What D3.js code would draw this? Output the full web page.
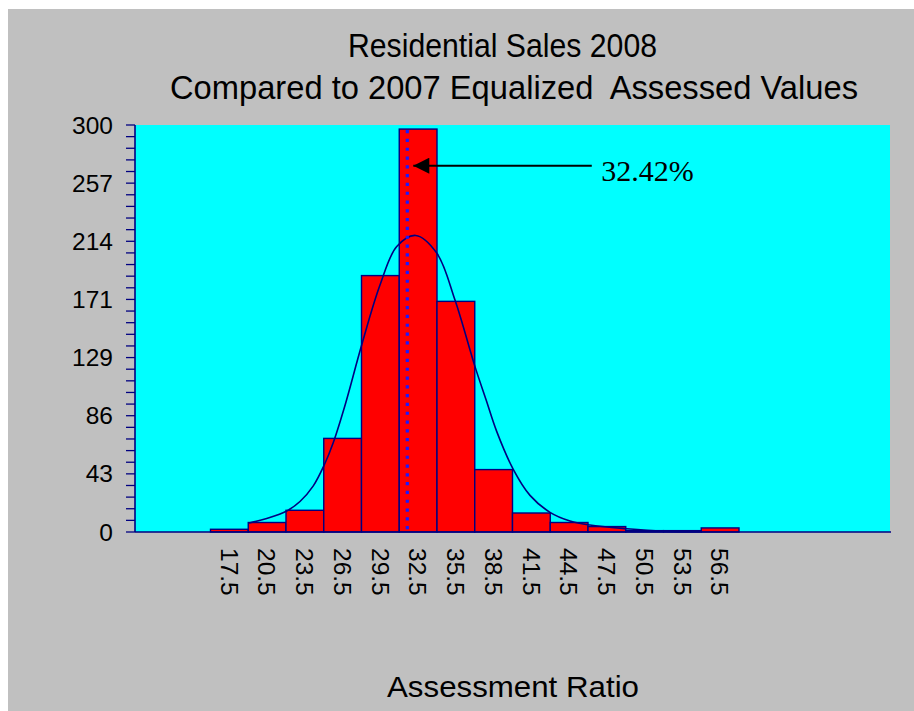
<!DOCTYPE html>
<html>
<head>
<meta charset="utf-8">
<script src="https://cdn.jsdelivr.net/npm/d3@7"></script>
<style>
  html, body { margin: 0; padding: 0; background: #ffffff; }
  svg { display: block; }
</style>
</head>
<body>
<svg id="chart" width="914" height="711"></svg>
<script>
// ---- Data ----
const binCenters = [17.5, 20.5, 23.5, 26.5, 29.5, 32.5, 35.5, 38.5, 41.5, 44.5, 47.5, 50.5, 53.5, 56.5];
const binLabels = ["17.5", "20.5", "23.5", "26.5", "29.5", "32.5", "35.5", "38.5", "41.5", "44.5", "47.5", "50.5", "53.5", "56.5"];
const counts = [2, 7, 16, 69, 189, 297, 170, 46, 14, 7, 4, 1, 1, 3];
const binWidth = 3;

// fitted curve as (ratio, count) points
const curveRatio = [19.06, 20.47, 22.06, 23.11, 24.17, 25.02, 25.76, 26.71, 28.02, 29.47, 30.8, 32.31, 33.98, 35.43, 37.02, 37.9, 38.75, 40.06, 41.39, 42.98, 44.57, 46.16, 49.08, 51.96, 54.9];
const curveCount = [6.6, 10.0, 15.5, 22.5, 34, 49, 66, 94, 138, 182, 210.4, 218.6, 205.6, 171, 121.9, 97.5, 74, 46.2, 27, 14.5, 8.1, 5.1, 2.4, 0.6, 0.2];

const yTickLabels = ["0", "43", "86", "129", "171", "214", "257", "300"];
const yMax = 300;
const xDomain = [10, 70];

const markerRatio = 31.64;       // position of the dotted marker on the ratio axis
const markerLabel = "32.42%";

const titleLines = ["Residential Sales 2008", "Compared to 2007 Equalized  Assessed Values"];
const xAxisTitle = "Assessment Ratio";

// ---- Layout ----
const svg = d3.select("#chart");
const W = 914, H = 711;
const plot = { left: 135, top: 125, right: 890, bottom: 532 };
const navy = "#000080";

svg.append("rect").attr("x", 0).attr("y", 0).attr("width", W).attr("height", H).attr("fill", "#ffffff");
svg.append("rect").attr("x", 8).attr("y", 9).attr("width", W - 8).attr("height", H - 9).attr("fill", "#c0c0c0");

const x = d3.scaleLinear().domain(xDomain).range([plot.left, plot.right]);
const y = d3.scaleLinear().domain([0, yMax]).range([plot.bottom, plot.top]);

// plot area
svg.append("rect")
  .attr("x", plot.left).attr("y", plot.top)
  .attr("width", plot.right - plot.left).attr("height", plot.bottom - plot.top)
  .attr("fill", "#00ffff");

// bars
const bins = binCenters.map((c, i) => ({ c, v: counts[i], label: binLabels[i] }));
svg.append("g").selectAll("rect").data(bins).join("rect")
  .attr("x", d => x(d.c - binWidth / 2))
  .attr("y", d => y(d.v))
  .attr("width", d => x(d.c + binWidth / 2) - x(d.c - binWidth / 2))
  .attr("height", d => y(0) - y(d.v))
  .attr("fill", "#ff0000")
  .attr("stroke", navy)
  .attr("stroke-width", 1.4);

// curve
const curvePts = curveRatio.map((r, i) => [r, curveCount[i]]);
svg.append("path")
  .datum(curvePts)
  .attr("d", d3.line().x(d => x(d[0])).y(d => y(d[1])).curve(d3.curveCatmullRom.alpha(0.5)))
  .attr("fill", "none")
  .attr("stroke", navy)
  .attr("stroke-width", 1.6);

// dotted marker
svg.append("line")
  .attr("x1", x(markerRatio)).attr("x2", x(markerRatio))
  .attr("y1", y(d3.max(counts)) + 1).attr("y2", y(0))
  .attr("stroke", "#1a1aff")
  .attr("stroke-width", 3.2)
  .attr("stroke-dasharray", "3.2 5.6");

// arrow + label
const arrowY = y(270);
const defs = svg.append("defs");
defs.append("marker")
  .attr("id", "arrowhead")
  .attr("viewBox", "0 0 10 10")
  .attr("refX", 10).attr("refY", 5)
  .attr("markerWidth", 17).attr("markerHeight", 16)
  .attr("markerUnits", "userSpaceOnUse")
  .attr("orient", "auto")
  .append("path").attr("d", "M0,0 L10,5 L0,10 Z").attr("fill", "#000");
svg.append("line")
  .attr("x1", x(46.3)).attr("x2", x(markerRatio) + 6)
  .attr("y1", arrowY).attr("y2", arrowY)
  .attr("stroke", "#000").attr("stroke-width", 2)
  .attr("marker-end", "url(#arrowhead)");
svg.append("text")
  .attr("x", x(47.05)).attr("y", arrowY + 15)
  .attr("font-family", "'Liberation Serif', 'Times New Roman', serif")
  .attr("font-size", 30)
  .attr("fill", "#000")
  .text(markerLabel);

// y axis
const minorTicks = d3.range(0, 36).map(i => i * yMax / 35);
svg.append("g").selectAll("line").data(minorTicks).join("line")
  .attr("x1", plot.left - 9).attr("x2", plot.left)
  .attr("y1", d => y(d)).attr("y2", d => y(d))
  .attr("stroke", navy).attr("stroke-width", 1.3);
svg.append("line")
  .attr("x1", plot.left).attr("x2", plot.left)
  .attr("y1", plot.top).attr("y2", plot.bottom)
  .attr("stroke", navy).attr("stroke-width", 1.6);
svg.append("g").selectAll("text").data(yTickLabels).join("text")
  .attr("x", plot.left - 22)
  .attr("y", (d, i) => y(i * yMax / 7))
  .attr("dy", "0.35em")
  .attr("text-anchor", "end")
  .attr("font-family", "'Liberation Sans', Arial, sans-serif")
  .attr("font-size", 24.5)
  .attr("fill", "#000")
  .text(d => d);

// x axis
svg.append("line")
  .attr("x1", plot.left).attr("x2", plot.right + 1)
  .attr("y1", plot.bottom).attr("y2", plot.bottom)
  .attr("stroke", navy).attr("stroke-width", 1.6);
svg.append("g").selectAll("text").data(bins).join("text")
  .attr("transform", d => `translate(${x(d.c)},${plot.bottom + 16}) rotate(90)`)
  .attr("dy", "0.36em")
  .attr("text-anchor", "start")
  .attr("font-family", "'Liberation Sans', Arial, sans-serif")
  .attr("font-size", 24.5)
  .attr("fill", "#000")
  .text(d => d.label);

// titles
const titleX = [502.5, 514];
const titleY = [57, 99];
const titleLen = [309, 688];
svg.append("g").selectAll("text").data(titleLines).join("text")
  .attr("x", (d, i) => titleX[i])
  .attr("y", (d, i) => titleY[i])
  .attr("text-anchor", "middle")
  .attr("font-family", "'Liberation Sans', Arial, sans-serif")
  .attr("font-size", 33)
  .attr("textLength", (d, i) => titleLen[i])
  .attr("lengthAdjust", "spacingAndGlyphs")
  .attr("fill", "#000")
  .style("white-space", "pre")
  .text(d => d);

svg.append("text")
  .attr("x", 513).attr("y", 697)
  .attr("text-anchor", "middle")
  .attr("font-family", "'Liberation Sans', Arial, sans-serif")
  .attr("font-size", 29.5)
  .attr("textLength", 252)
  .attr("lengthAdjust", "spacingAndGlyphs")
  .attr("fill", "#000")
  .text(xAxisTitle);
</script>
</body>
</html>
